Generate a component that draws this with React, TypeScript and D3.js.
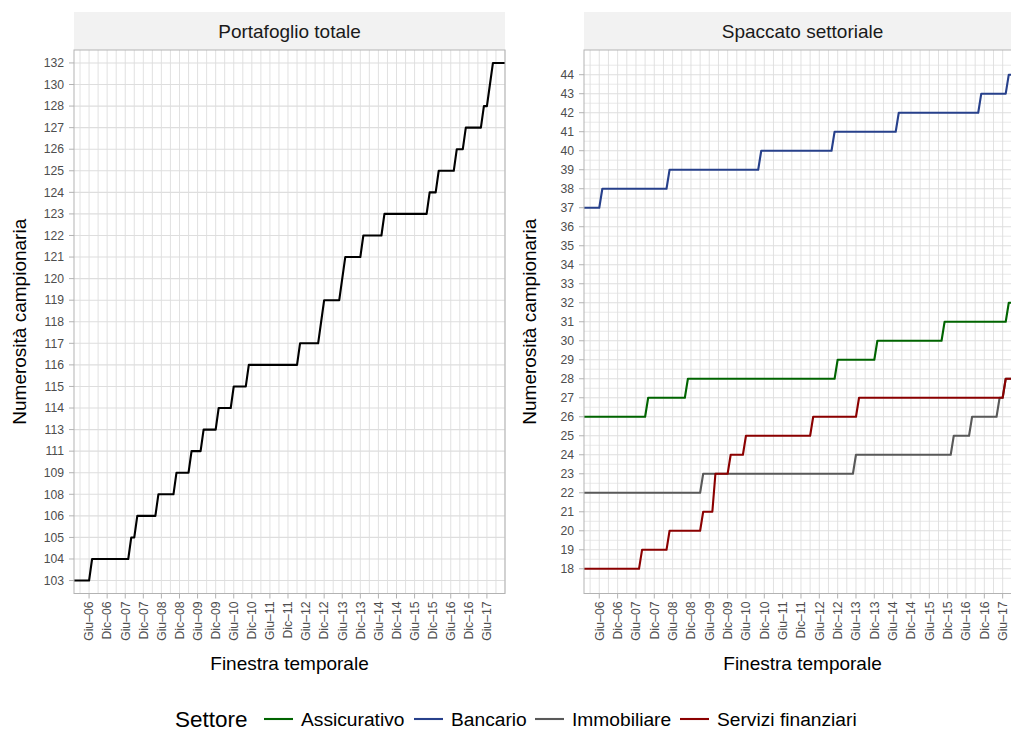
import React from "react";
import * as d3 from "d3";

// ---------- DATA ----------
// monthly windows from Gen-06 (index 0) to Dic-17 (index 143)
const monthCount = 144;
const xTickLabels = [
  "Giu–06", "Dic–06", "Giu–07", "Dic–07", "Giu–08", "Dic–08", "Giu–09", "Dic–09",
  "Giu–10", "Dic–10", "Giu–11", "Dic–11", "Giu–12", "Dic–12", "Giu–13", "Dic–13",
  "Giu–14", "Dic–14", "Giu–15", "Dic–15", "Giu–16", "Dic–16", "Giu–17",
];
const xTickMonths = [5, 11, 17, 23, 29, 35, 41, 47, 53, 59, 65, 71, 77, 83, 89, 95, 101, 107, 113, 119, 125, 131, 137];

// [month index where value starts, value]
const totaleSteps: [number, number][] = [
  [0, 103], [6, 104], [19, 105], [21, 106], [28, 108], [34, 109], [39, 111], [43, 113],
  [48, 114], [53, 115], [58, 116], [75, 117], [82, 118], [83, 119], [89, 120], [90, 121],
  [96, 122], [103, 123], [118, 124], [121, 125], [127, 126], [130, 127], [136, 128],
  [138, 130], [139, 132],
];
const totaleLevels = [103, 104, 105, 106, 108, 109, 111, 113, 114, 115, 116, 117, 118, 119, 120, 121, 122, 123, 124, 125, 126, 127, 128, 130, 132];

const sectors = ["Assicurativo", "Bancario", "Immobiliare", "Servizi finanziari"];
const sectorColors = ["#006400", "#27408B", "#595959", "#8B0000"];
const assicurativoSteps: [number, number][] = [[0, 26], [21, 27], [34, 28], [83, 29], [96, 30], [118, 31], [139, 32]];
const bancarioSteps: [number, number][] = [[0, 37], [6, 38], [28, 39], [58, 40], [82, 41], [103, 42], [130, 43], [139, 44]];
const immobiliareSteps: [number, number][] = [[0, 22], [39, 23], [89, 24], [121, 25], [127, 26], [136, 27], [138, 28]];
const serviziSteps: [number, number][] = [[0, 18], [19, 19], [28, 20], [39, 21], [43, 23], [48, 24], [53, 25], [75, 26], [90, 27], [138, 28]];
const sectorSteps = [assicurativoSteps, bancarioSteps, immobiliareSteps, serviziSteps];

const rightYTicks = d3.range(18, 45);

// ---------- LAYOUT ----------
const W = 1011, H = 729;
const FONT = "'Liberation Sans', Arial, Helvetica, sans-serif";
const TOP = 50, BOTTOM = 593.5, STRIP_TOP = 12;
const LEFT = { x0: 74, x1: 505 };
const RIGHT = { x0: 584, x1: 1021 };
const GRID = "#dedede";
const BORDER = "#b3b3b3";
const TICKTXT = "#4d4d4d";

function expand(steps: [number, number][]) {
  const out: { m: number; v: number }[] = [];
  let k = 0;
  for (let m = 0; m < monthCount; m++) {
    while (k + 1 < steps.length && steps[k + 1][0] <= m) k++;
    out.push({ m, v: steps[k][1] });
  }
  return out;
}

function Panel({ p, title, children, yAxis, gridY }: any) {
  const x = d3.scaleLinear().domain([0, monthCount - 1]).range([p.x0, p.x1]);
  const vgrid = d3.range(2, monthCount, 3);
  return (
    <g>
      <rect x={p.x0} y={STRIP_TOP} width={p.x1 - p.x0} height={TOP - STRIP_TOP} fill="#f2f2f2" />
      <text x={(p.x0 + p.x1) / 2} y={38} textAnchor="middle" fontSize={19} fill="#1a1a1a">{title}</text>
      <rect x={p.x0} y={TOP} width={p.x1 - p.x0} height={BOTTOM - TOP} fill="#fff" />
      {gridY}
      {vgrid.map((m) => (
        <line key={"v" + m} x1={x(m)} x2={x(m)} y1={TOP} y2={BOTTOM} stroke={GRID} strokeWidth={0.9} />
      ))}
      {children(x)}
      <rect x={p.x0} y={TOP} width={p.x1 - p.x0} height={BOTTOM - TOP} fill="none" stroke={BORDER} strokeWidth={1} />
      {yAxis}
      {xTickMonths.map((m, i) => (
        <g key={"xt" + m}>
          <line x1={x(m)} x2={x(m)} y1={BOTTOM} y2={BOTTOM + 5} stroke={BORDER} strokeWidth={1} />
          <text transform={`translate(${x(m)},${BOTTOM + 8}) rotate(-90)`} textAnchor="end" dy="0.35em" fontSize={12.2} fill={TICKTXT}>
            {xTickLabels[i]}
          </text>
        </g>
      ))}
      <text x={(p.x0 + p.x1) / 2} y={670} textAnchor="middle" fontSize={19} fill="#000">Finestra temporale</text>
      <text transform={`translate(${p.x0 - 48.5},${(TOP + BOTTOM) / 2}) rotate(-90)`} textAnchor="middle" fontSize={19} fill="#000">
        Numerosità campionaria
      </text>
    </g>
  );
}

export default function App() {
  const yL = d3.scalePoint<number>().domain(totaleLevels).range([BOTTOM, TOP]).padding(0.6);
  const yR = d3.scaleLinear().domain([16.7, 45.3]).range([BOTTOM, TOP]);
  const totale = expand(totaleSteps);
  const sectorData = sectorSteps.map(expand);
  const halfTicks = d3.range(17.5, 45.5, 1);

  const gridYL = totaleLevels.map((v) => (
    <line key={"hl" + v} x1={LEFT.x0} x2={LEFT.x1} y1={yL(v)!} y2={yL(v)!} stroke={GRID} strokeWidth={1.1} />
  ));
  const gridYR = (
    <g>
      {halfTicks.map((v) => (
        <line key={"hm" + v} x1={RIGHT.x0} x2={RIGHT.x1} y1={yR(v)} y2={yR(v)} stroke={GRID} strokeWidth={0.7} />
      ))}
      {rightYTicks.map((v) => (
        <line key={"hr" + v} x1={RIGHT.x0} x2={RIGHT.x1} y1={yR(v)} y2={yR(v)} stroke={GRID} strokeWidth={1.1} />
      ))}
    </g>
  );
  const yAxisL = totaleLevels.map((v) => (
    <g key={"yl" + v}>
      <line x1={LEFT.x0 - 5} x2={LEFT.x0} y1={yL(v)!} y2={yL(v)!} stroke={BORDER} />
      <text x={LEFT.x0 - 10} y={yL(v)!} dy="0.35em" textAnchor="end" fontSize={12.2} fill={TICKTXT}>{v}</text>
    </g>
  ));
  const yAxisR = rightYTicks.map((v) => (
    <g key={"yr" + v}>
      <line x1={RIGHT.x0 - 5} x2={RIGHT.x0} y1={yR(v)} y2={yR(v)} stroke={BORDER} />
      <text x={RIGHT.x0 - 10} y={yR(v)} dy="0.35em" textAnchor="end" fontSize={12.2} fill={TICKTXT}>{v}</text>
    </g>
  ));

  const legendKeyX = [264, 414, 535, 680];
  const legendTextX = [301, 451, 572, 717];
  const LY = 719;

  return (
    <svg width={W} height={H} style={{ position: "absolute", left: 0, top: 0, background: "#fff" }} fontFamily={FONT}>
      <rect width={W} height={H} fill="#fff" />
      <Panel p={LEFT} title="Portafoglio totale" gridY={gridYL} yAxis={yAxisL}>
        {(x: any) => {
          const line = d3.line<{ m: number; v: number }>().x((d) => x(d.m)).y((d) => yL(d.v)!);
          return <path d={line(totale)!} fill="none" stroke="#000" strokeWidth={2.1} strokeLinejoin="round" />;
        }}
      </Panel>
      <Panel p={RIGHT} title="Spaccato settoriale" gridY={gridYR} yAxis={yAxisR}>
        {(x: any) => {
          const line = d3.line<{ m: number; v: number }>().x((d) => x(d.m)).y((d) => yR(d.v));
          return (
            <g>
              {sectorData.map((s, i) => (
                <path key={sectors[i]} d={line(s)!} fill="none" stroke={sectorColors[i]} strokeWidth={2.1} strokeLinejoin="round" />
              ))}
            </g>
          );
        }}
      </Panel>
      <g>
        <text x={175} y={LY} dy="0.35em" fontSize={22.5} fill="#000">Settore</text>
        {sectors.map((s, i) => (
          <g key={"lg" + s}>
            <line x1={legendKeyX[i]} x2={legendKeyX[i] + 29} y1={LY} y2={LY} stroke={sectorColors[i]} strokeWidth={2.1} />
            <text x={legendTextX[i]} y={LY} dy="0.35em" fontSize={19.2} fill="#000">{s}</text>
          </g>
        ))}
      </g>
    </svg>
  );
}
